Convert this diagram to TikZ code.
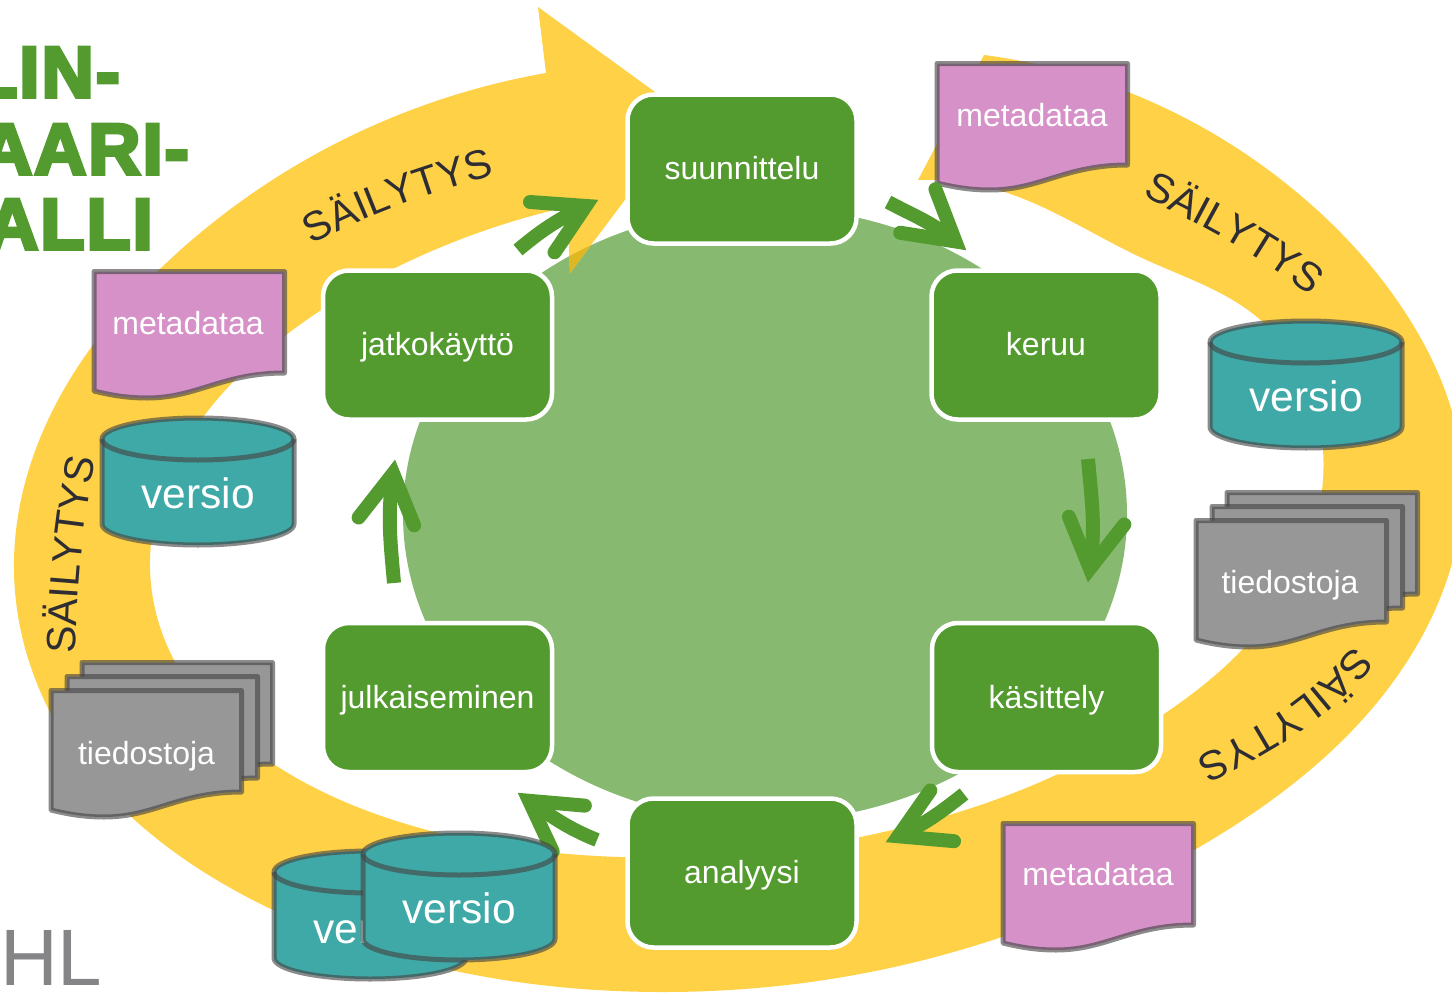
\documentclass[tikz,border=0pt]{standalone}
\usepackage{fontspec}
\setmainfont{Liberation Sans}
\newfontfamily\titlefont[FakeBold=5,LetterSpace=3]{Liberation Sans Bold}
\usetikzlibrary{decorations.text,hobby}
\definecolor{ringyellow}{HTML}{FFD147}
\definecolor{overlapyellow}{HTML}{DDB822}
\definecolor{disc}{HTML}{88B971}
\definecolor{boxgreen}{HTML}{539B2F}
\definecolor{pinkdoc}{HTML}{D692C8}
\definecolor{greydoc}{HTML}{979797}
\definecolor{tealcyl}{HTML}{3FA9A7}
\definecolor{edgegrey}{HTML}{444444}
\definecolor{darktext}{HTML}{2D2D33}
\definecolor{hlgrey}{HTML}{858587}
\newcommand\ringpath{(984,-55) .. (1128,-92) .. (1300,-195) .. (1410,-320) .. (1462,-465) .. (1420,-640) .. (1196,-849) .. (860,-974) .. (660,-992) .. (273,-910) .. (49,-710) .. (14,-560) .. (48,-420) .. (161,-268) .. (357,-133) .. (546,-73) -- (538,-7) -- (688,-116) -- (570,-273) -- (567,-207) .. (395,-268) .. (286,-335) .. (201,-420) .. (150,-560) .. (175,-662) .. (275,-765) .. (435,-832) .. (620,-857) .. (860,-837) .. (1056,-775) .. (1164,-714) .. (1237,-655) .. (1317,-518) .. (1323,-450) .. (1257,-317) .. (1142,-258) .. (998,-190) .. (918,-180) -- cycle}
\newcommand\mainsize{\fontsize{32}{36}\selectfont}
\newcommand\bigsize{\fontsize{42.5}{48}\selectfont}
\newcommand\ringword{\fontsize{41}{46}\selectfont\color{darktext}}
\tikzset{
  use Hobby shortcut,
  stagebox/.style={rectangle,rounded corners=26pt,fill=boxgreen,draw=white,line width=4.5pt,
    minimum width=229pt,minimum height=149pt,inner sep=0pt,text=white,font=\mainsize,
    text height=26pt,text depth=5pt},
  titleline/.style={anchor=base east,inner sep=0pt,text=boxgreen,font=\titlefont\fontsize{72}{80}\selectfont},
  doclabel/.style={inner sep=0pt,anchor=base,text=white,font=\mainsize},
  cyllabel/.style={inner sep=0pt,anchor=base,text=white,font=\bigsize},
  softedge/.style={draw=edgegrey,draw opacity=.62,line width=5pt,line join=round},
  arrowstem/.style={draw=boxgreen,line width=14pt},
  arrowhead/.style={draw=boxgreen,line width=14pt,line cap=round,line join=miter,miter limit=20},
  ringtext/.style={decorate,decoration={text along path,text={|\ringword|SÄILYTYS},text align=center}}
}
% top-left outer corner x, y, fill
\newcommand\docshape[3]{%
  \begin{scope}[shift={(#1,-#2)}]
    \path[softedge,fill=#3] (2,-2.5) -- (192.5,-2.5) -- (192.5,-104)
      .. controls (130,-104) and (105,-129) .. (55,-129)
      .. controls (35,-129) and (18,-126) .. (2,-122) -- cycle;
  \end{scope}}
% centre x, top-ellipse centre y, bottom-ellipse centre y
\newcommand\cylshape[3]{%
  \path[softedge,fill=tealcyl] (#1-96,-#2) arc[start angle=180,end angle=0,x radius=96,y radius=21]
    -- (#1+96,-#3) arc[start angle=0,end angle=-180,x radius=96,y radius=21] -- cycle;
  \path[softedge] (#1-96,-#2) arc[start angle=180,end angle=360,x radius=96,y radius=21];}
% name, tip x, tip y, tip angle, start x, start y, start angle
\newcommand\greenarrow[7]{%
  \pgfmathsetmacro\arrin{#4+180}%
  \coordinate (#1-tail) at (#5,-#6);
  \begin{scope}[shift={(#2,-#3)},rotate=#4]
    \coordinate (#1-v) at (-13.6,0);
    \coordinate (#1-a) at (-62,28);
    \coordinate (#1-b) at (-62,-28);
  \end{scope}
  \draw[arrowstem] (#1-tail) to[out=#7,in=\arrin] (#1-v);
  \draw[arrowhead] (#1-a) -- (#1-v) -- (#1-b);}
\begin{document}
\begin{tikzpicture}[x=1pt,y=1pt]
\useasboundingbox (0,0) rectangle (1452,-993);
\begin{scope}
\clip (0,0) rectangle (1452,-993);
% title and logo
\node[titleline] (title1) at (120,-97) {LIN-};
\node[titleline] (title2) at (189,-174) {AARI-};
\node[titleline] (title3) at (153,-249) {ALLI};
\node[anchor=base west,inner sep=0pt,text=hlgrey,font=\fontsize{80}{90}\selectfont] (logo) at (0,-985) {HL};
% ring and disc
\fill[disc] (765,-514.5) ellipse[x radius=362,y radius=307];
\fill[ringyellow] \ringpath;
\begin{scope}
  \clip (765,-514.5) ellipse[x radius=362,y radius=307];
  \fill[overlapyellow] \ringpath;
\end{scope}
% ring words
\path[ringtext] (308,-247) .. controls (367,-214) and (432,-192) .. (499,-174);
\path[ringtext] (1140,-195) .. controls (1195,-222) and (1260,-255) .. (1312,-297);
\path[ringtext] (1358,-640) .. controls (1320,-690) and (1260,-730) .. (1190,-760);
\path[ringtext] (76,-657) .. controls (76,-590) and (83,-520) .. (96,-456);
% stage boxes
\node[stagebox] (suunnittelu) at (742,-169) {suunnittelu};
\node[stagebox] (keruu) at (1046,-345) {keruu};
\node[stagebox] (kasittely) at (1046.5,-697.5) {käsittely};
\node[stagebox] (analyysi) at (742,-873) {analyysi};
\node[stagebox] (julkaiseminen) at (437.5,-697.5) {julkaiseminen};
\node[stagebox] (jatkokaytto) at (437.5,-345) {jatkokäyttö};
% documents
\docshape{92}{269}{pinkdoc}
\node[doclabel] (metaA) at (188,-334) {metadataa};
\docshape{935}{61}{pinkdoc}
\node[doclabel] (metaB) at (1032,-126) {metadataa};
\docshape{1001}{821}{pinkdoc}
\node[doclabel] (metaC) at (1098,-885) {metadataa};
\docshape{80}{660}{greydoc}
\docshape{65}{674}{greydoc}
\docshape{49}{688}{greydoc}
\node[doclabel] (filesA) at (146.5,-764) {tiedostoja};
\docshape{1225}{490}{greydoc}
\docshape{1210}{504}{greydoc}
\docshape{1194}{518}{greydoc}
\node[doclabel] (filesB) at (1290,-593) {tiedostoja};
% cycle arrows
\greenarrow{aA}{598}{200}{26}{518}{250}{40}
\greenarrow{aB}{966}{250}{-39}{888}{202}{-28}
\greenarrow{aC}{1088}{582}{-98}{1088}{459}{-85}
\greenarrow{aD}{886}{842}{205}{964}{794}{218}
\greenarrow{aE}{518}{793}{145}{597}{840}{158}
\greenarrow{aF}{395}{460}{82}{394}{583}{95}
% versions
\cylshape{1306}{342}{427}
\node[cyllabel] (verB) at (1306,-411) {versio};
\cylshape{198}{439}{524}
\node[cyllabel] (verA) at (198,-508) {versio};
\cylshape{370}{872}{958}
\node[cyllabel] (verC) at (370,-943) {versio};
\cylshape{459}{854}{939}
\node[cyllabel] (verD) at (459,-923) {versio};
\end{scope}
\end{tikzpicture}
\end{document}
